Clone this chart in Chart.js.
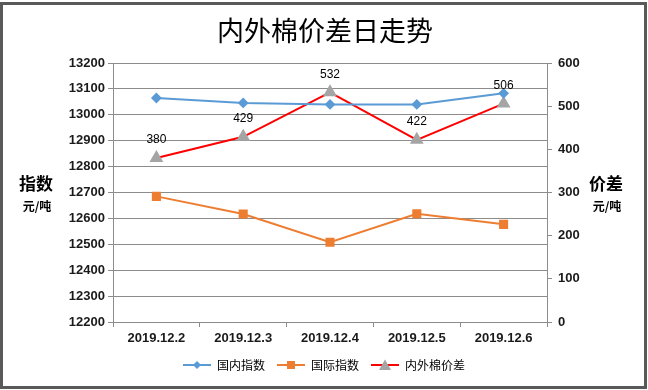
<!DOCTYPE html>
<html>
<head>
<meta charset="utf-8">
<script src="https://cdn.jsdelivr.net/npm/chart.js@4/dist/chart.umd.min.js"></script>
<style>
  html, body { margin: 0; padding: 0; background: #fff; }
  #wrap { width: 648px; height: 390px; }
</style>
</head>
<body>
<div id="wrap"><canvas id="spreadChart" width="648" height="390"></canvas></div>
<script>
/* 内外棉价差日走势 — 国内/国际指数 (左轴) + 价差 (右轴) */
const dates    = ['2019.12.2', '2019.12.3', '2019.12.4', '2019.12.5', '2019.12.6'];
const domestic = [13065, 13046, 13040, 13040, 13083];
const intl     = [12685, 12617, 12508, 12618, 12577];
const spread   = [380, 429, 532, 422, 506];
const leftTicks  = { min: 12200, max: 13200, step: 100 };
const rightTicks = { min: 0, max: 600, step: 100 };

const BLUE = '#5b9bd5', ORANGE = '#ed7d31', RED = '#ff0000', GRAY = '#a5a5a5';
const GRID = '#8c8c8c';
const CJK  = '"Noto Sans CJK SC", sans-serif';
const LAT  = '"Liberation Sans", Arial, sans-serif';

/* icono de leyenda: línea + marcador, como en Excel */
function legendIcon(lineColor, marker, markColor) {
  const c = document.createElement('canvas');
  c.width = 28; c.height = 12;
  const g = c.getContext('2d');
  g.strokeStyle = lineColor; g.lineWidth = 2;
  g.beginPath(); g.moveTo(0, 6); g.lineTo(28, 6); g.stroke();
  g.fillStyle = markColor;
  g.beginPath();
  if (marker === 'diamond') {
    g.moveTo(14, 2); g.lineTo(18, 6); g.lineTo(14, 10); g.lineTo(10, 6);
  } else if (marker === 'square') {
    g.rect(10, 2, 8, 8);
  } else {
    g.moveTo(14, 0.5); g.lineTo(20, 11); g.lineTo(8, 11);
  }
  g.closePath(); g.fill();
  return c;
}
const icons = [
  legendIcon(BLUE, 'diamond', BLUE),
  legendIcon(ORANGE, 'square', ORANGE),
  legendIcon(RED, 'triangle', GRAY),
];

const framePlugin = {
  id: 'frame',
  beforeDraw(chart) {
    const ctx = chart.ctx;
    ctx.save();
    ctx.fillStyle = '#fff';
    ctx.fillRect(0, 0, chart.width, chart.height);
    ctx.restore();
  },
  afterDraw(chart) {
    const ctx = chart.ctx;
    ctx.save();
    ctx.fillStyle = '#000';
    ctx.textAlign = 'center';
    ctx.textBaseline = 'middle';
    ctx.font = '27px ' + CJK;
    ctx.fillText('内外棉价差日走势', 325, 31);

    ctx.font = 'bold 17px ' + CJK;
    ctx.fillText('指数', 36, 184);
    ctx.fillText('价差', 606, 184);
    ctx.font = 'bold 12px ' + CJK;
    ctx.fillText('元/吨', 37, 206);
    ctx.fillText('元/吨', 607, 206);

    ctx.strokeStyle = '#595959';
    ctx.lineWidth = 3;
    ctx.strokeRect(1.5, 3.5, 644, 384);
    ctx.restore();
  }
};

const labelPlugin = {
  id: 'spreadLabels',
  afterDatasetsDraw(chart) {
    const ctx = chart.ctx;
    const meta = chart.getDatasetMeta(2);
    ctx.save();
    ctx.fillStyle = '#000';
    ctx.font = '12px ' + LAT;
    ctx.textAlign = 'center';
    ctx.textBaseline = 'middle';
    meta.data.forEach((pt, i) => ctx.fillText(String(spread[i]), pt.x, pt.y - 18));
    ctx.restore();
  }
};

const tickFont = { family: LAT, size: 13, weight: 'bold' };

new Chart(document.getElementById('spreadChart').getContext('2d'), {
  type: 'line',
  data: {
    labels: dates,
    datasets: [
      {
        label: '国内指数', data: domestic, yAxisID: 'y',
        borderColor: BLUE, backgroundColor: BLUE, borderWidth: 2,
        pointStyle: 'rectRot', pointRadius: 4, pointHoverRadius: 4,
        pointBackgroundColor: BLUE, pointBorderColor: BLUE, tension: 0,
      },
      {
        label: '国际指数', data: intl, yAxisID: 'y',
        borderColor: ORANGE, backgroundColor: ORANGE, borderWidth: 2,
        pointStyle: 'rect', pointRadius: 5, pointHoverRadius: 5,
        pointBackgroundColor: ORANGE, pointBorderColor: ORANGE, tension: 0,
      },
      {
        label: '内外棉价差', data: spread, yAxisID: 'y1',
        borderColor: RED, backgroundColor: GRAY, borderWidth: 2,
        pointStyle: 'triangle', pointRadius: 6, pointHoverRadius: 6,
        pointBackgroundColor: GRAY, pointBorderColor: GRAY, tension: 0,
      },
    ],
  },
  options: {
    responsive: false,
    animation: false,
    devicePixelRatio: 1,
    layout: { padding: { top: 63, left: 0, right: 0, bottom: 9 } },
    plugins: {
      title: { display: false },
      tooltip: { enabled: false },
      legend: {
        position: 'bottom',
        labels: {
          font: { family: CJK, size: 12 },
          color: '#000',
          padding: 12,
          boxWidth: 28,
          boxHeight: 12,
          usePointStyle: true,
          pointStyleWidth: 28,
          generateLabels: (chart) => chart.data.datasets.map((ds, i) => ({
            text: ds.label,
            pointStyle: icons[i],
            fillStyle: ds.borderColor,
            strokeStyle: ds.borderColor,
            lineWidth: 0,
            hidden: false,
            datasetIndex: i,
            fontColor: '#000',
          })),
        },
      },
    },
    scales: {
      x: {
        offset: true,
        grid: { display: true, drawOnChartArea: false, drawTicks: true, tickLength: 5, color: GRID, offset: true },
        border: { display: true, color: GRID },
        ticks: { font: tickFont, color: '#1a1a1a', padding: 4, maxRotation: 0, autoSkip: false },
        afterFit: (s) => { s.height = 25; },
      },
      y: {
        position: 'left',
        min: leftTicks.min, max: leftTicks.max,
        ticks: { stepSize: leftTicks.step, font: tickFont, color: '#1a1a1a', padding: 3, callback: (v) => String(v) },
        grid: { color: GRID, tickLength: 5 },
        border: { display: true, color: GRID },
        afterFit: (s) => { s.width = 113; },
      },
      y1: {
        position: 'right',
        min: rightTicks.min, max: rightTicks.max,
        ticks: { stepSize: rightTicks.step, font: tickFont, color: '#1a1a1a', padding: 6, callback: (v) => String(v) },
        grid: { drawOnChartArea: false, color: GRID, tickLength: 5 },
        border: { display: true, color: GRID },
        afterFit: (s) => { s.width = 101; },
      },
    },
  },
  plugins: [framePlugin, labelPlugin],
});
</script>
</body>
</html>
